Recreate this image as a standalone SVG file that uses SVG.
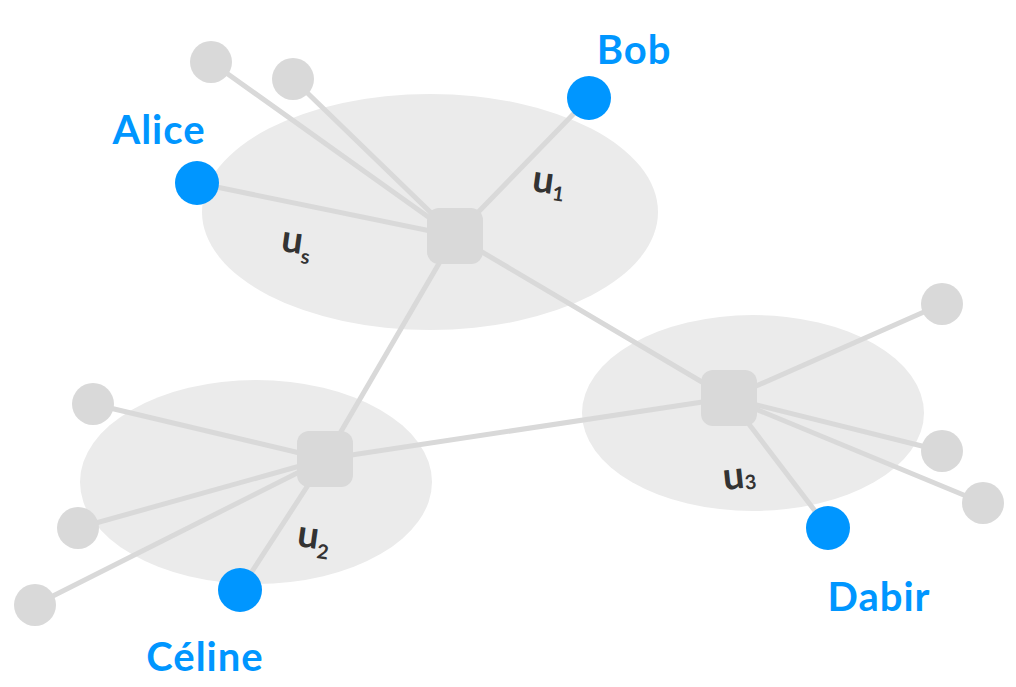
<svg xmlns="http://www.w3.org/2000/svg" width="1016" height="687" viewBox="0 0 1016 687">
<style>
.zone{fill:#ebebeb}
.edge{stroke:#d9d9d9;stroke-width:5;stroke-linecap:round;fill:none}
.hub{fill:#d9d9d9}
.leaf{fill:#d9d9d9}
.user{fill:#0096ff}
.name{font-family:"Lato","Open Sans",sans-serif;font-weight:bold;font-size:40px;letter-spacing:1px;fill:#0096ff;text-anchor:middle}
.lab{font-family:"Lato","Open Sans",sans-serif;font-weight:bold;font-size:38px;fill:#333333}
.sub{font-size:20px}
</style>
<rect width="1016" height="687" fill="#ffffff"/>
<g id="zones">
<ellipse class="zone" cx="430" cy="212" rx="228" ry="118"/>
<ellipse class="zone" cx="256" cy="482" rx="176" ry="102"/>
<ellipse class="zone" cx="753" cy="413" rx="171" ry="98"/>
</g>
<g id="connectors">
<line class="edge" x1="455" y1="236" x2="211" y2="62"/>
<line class="edge" x1="455" y1="236" x2="293" y2="79"/>
<line class="edge" x1="455" y1="236" x2="197" y2="183"/>
<line class="edge" x1="455" y1="236" x2="589" y2="98"/>
<line class="edge" x1="455" y1="236" x2="729" y2="398"/>
<line class="edge" x1="455" y1="236" x2="325" y2="459"/>
<line class="edge" x1="325" y1="459" x2="729" y2="398"/>
<line class="edge" x1="325" y1="459" x2="93" y2="404"/>
<line class="edge" x1="325" y1="459" x2="78" y2="528"/>
<line class="edge" x1="325" y1="459" x2="35" y2="605"/>
<line class="edge" x1="325" y1="459" x2="240" y2="590"/>
<line class="edge" x1="729" y1="398" x2="942" y2="304"/>
<line class="edge" x1="729" y1="398" x2="942" y2="451"/>
<line class="edge" x1="729" y1="398" x2="983" y2="503"/>
<line class="edge" x1="729" y1="398" x2="828" y2="528"/>
</g>
<g id="hub1"><rect class="hub" x="427" y="208" width="56" height="56" rx="12"/></g>
<g id="hub2"><rect class="hub" x="297" y="431" width="56" height="56" rx="12"/></g>
<g id="hub3"><rect class="hub" x="701" y="370" width="56" height="56" rx="12"/></g>
<g id="leaf1"><circle class="leaf" cx="211" cy="62" r="21"/></g>
<g id="leaf2"><circle class="leaf" cx="293" cy="79" r="21"/></g>
<g id="leaf3"><circle class="leaf" cx="93" cy="404" r="21"/></g>
<g id="leaf4"><circle class="leaf" cx="78" cy="528" r="21"/></g>
<g id="leaf5"><circle class="leaf" cx="35" cy="605" r="21"/></g>
<g id="leaf6"><circle class="leaf" cx="942" cy="304" r="21"/></g>
<g id="leaf7"><circle class="leaf" cx="942" cy="451" r="21"/></g>
<g id="leaf8"><circle class="leaf" cx="983" cy="503" r="21"/></g>
<g id="alice"><circle class="user" cx="197" cy="183" r="22"/><text class="name" x="159" y="144">Alice</text></g>
<g id="bob"><circle class="user" cx="589" cy="98" r="22"/><text class="name" x="634" y="64">Bob</text></g>
<g id="celine"><circle class="user" cx="240" cy="590" r="22"/><text class="name" x="205" y="671">Céline</text></g>
<g id="dabir"><circle class="user" cx="828" cy="528" r="22"/><text class="name" x="879" y="611">Dabir</text></g>
<g id="labels">
<text class="lab" transform="translate(280 251) rotate(8)">u<tspan class="sub" dy="9">s</tspan></text>
<text class="lab" transform="translate(531 191) rotate(8)">u<tspan class="sub" dy="6">1</tspan></text>
<text class="lab" transform="translate(724 490) rotate(-6)">u<tspan class="sub" dy="2">3</tspan></text>
<text class="lab" transform="translate(296 546) rotate(8)">u<tspan class="sub" dy="9">2</tspan></text>
</g>
</svg>
